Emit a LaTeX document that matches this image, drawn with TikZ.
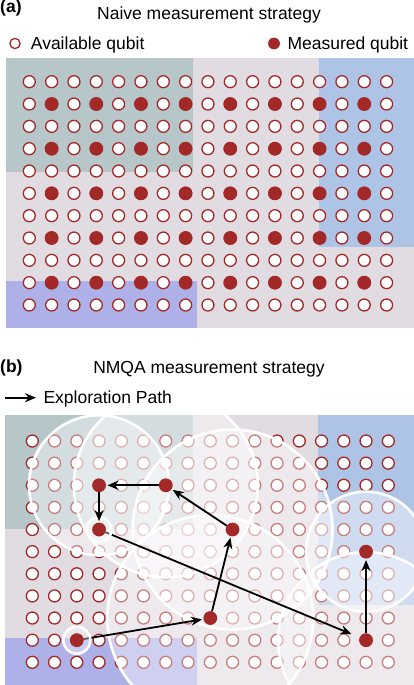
\documentclass[tikz,border=0pt]{standalone}
\usepackage{fontspec}
\setmainfont{Liberation Sans}
\usetikzlibrary{arrows.meta}
\definecolor{qred}{RGB}{163,40,40}
\definecolor{bgmauve}{RGB}{225,219,226}
\definecolor{bggray}{RGB}{182,198,201}
\definecolor{bgblue}{RGB}{174,196,231}
\definecolor{bgpurple}{RGB}{174,176,232}
\begin{document}
\begin{tikzpicture}[x=1pt,y=-1pt,
  avail/.style={circle,draw=qred,fill=white,line width=1.3pt,minimum size=12pt,inner sep=0pt},
  meas/.style={circle,fill=qred,minimum size=13.8pt,inner sep=0pt},
  spot/.style={circle,minimum size=13.4pt,inner sep=0pt},
  zone/.style={fill=white,fill opacity=0.4,draw=white,draw opacity=1,line width=2.6pt},
  ring/.style={fill=white,fill opacity=0.35,draw=white,draw opacity=1,line width=2.6pt},
  flow/.style={black,line width=1.8pt,-{Stealth[length=11pt,width=9pt,inset=3.5pt]},shorten >=1.5pt},
  lbl/.style={font=\fontsize{17.5}{20}\selectfont,anchor=base west,inner sep=0pt},
  lblb/.style={font=\fontsize{17.5}{20}\selectfont\bfseries,anchor=base west,inner sep=0pt},
  ttl/.style={font=\fontsize{17.5}{20}\selectfont,anchor=base,inner sep=0pt},
]
\useasboundingbox (0,0) rectangle (414,685);
% ---------- panel (a) ----------
\fill[bgmauve] (6,58) rectangle (414,328);
\fill[bggray] (6,58) rectangle (193.3,171.7);
\fill[bgblue] (319,58) rectangle (414,247);
\fill[bgpurple] (6,281) rectangle (196.7,328);
\node[lblb] (la) at (0,13) {(a)};
\node[ttl] (ta) at (209,20) {Naive measurement strategy};
\node[avail,minimum size=10.2pt] (lega) at (15,43.5) {};
\node[lbl] (legat) at (30.7,49.3) {Available qubit};
\node[meas,minimum size=11.8pt] (legm) at (274,43.5) {};
\node[lbl] (legmt) at (287.3,49.3) {Measured qubit};
\foreach \i in {1,...,17}{\foreach \j in {1,...,11}{
  \node[avail] (qa-\i-\j) at ({29.3+22.33*(\i-1)},{81.7+22.33*(\j-1)}) {};}}
\foreach \i in {2,4,...,16}{\foreach \j in {2,4,...,10}{
  \node[meas] (ma-\i-\j) at (qa-\i-\j) {};}}
% ---------- panel (b) ----------
\node[lblb] (lb) at (0,372) {(b)};
\node[ttl] (tb) at (209,373) {NMQA measurement strategy};
\coordinate (ls) at (5,397.7);
\coordinate (le) at (36,397.7);
\draw[flow,shorten >=0pt] (ls) -- (le);
\node[lbl] (legx) at (43.3,403.3) {Exploration Path};
\fill[bgmauve] (5,415) rectangle (414,685);
\fill[bggray] (5,415) rectangle (193,528.5);
\fill[bgblue] (318,415) rectangle (414,605);
\fill[bgpurple] (5,638) rectangle (197,685);
\foreach \i in {1,...,17}{\foreach \j in {1,...,11}{
  \node[avail] (qb-\i-\j) at ({32.3+22.25*(\i-1)},{441+22.13*(\j-1)}) {};}}
\node[spot] (A) at (qb-3-10) {};
\node[spot] (B) at (qb-9-9) {};
\node[spot] (C) at (qb-10-5) {};
\node[spot] (D) at (qb-7-3) {};
\node[spot] (E) at (qb-4-3) {};
\node[spot] (F) at (qb-4-5) {};
\node[spot] (G) at (qb-16-10) {};
\node[spot] (H) at (qb-16-6) {};
\begin{scope}
  \clip (5,415) rectangle (414,685);
  \draw[zone] (E) circle[radius=70pt];
  \draw[zone] (D) circle[radius=92pt];
  \draw[zone] (C) circle[radius=100pt];
  \draw[zone] (B) circle[radius=103pt];
  \draw[zone] (G) circle[radius=88pt];
  \draw[zone] (H) circle[radius=60pt];
\end{scope}
\draw[flow] (A) -- (B);
\draw[flow,shorten >=9pt] (F) -- (G);
\draw[ring] (A) circle[radius=13.5pt];
\draw[ring] (F) circle[radius=12.5pt];
\draw[flow] (B) -- (C);
\draw[flow] (C) -- (D);
\draw[flow] (D) -- (E);
\draw[flow] (E) -- (F);
\draw[flow] (G) -- (H);
\foreach \n in {A,B,C,D,E,F,G,H}{\node[meas] (\n d) at (\n) {};}
\end{tikzpicture}
\end{document}
